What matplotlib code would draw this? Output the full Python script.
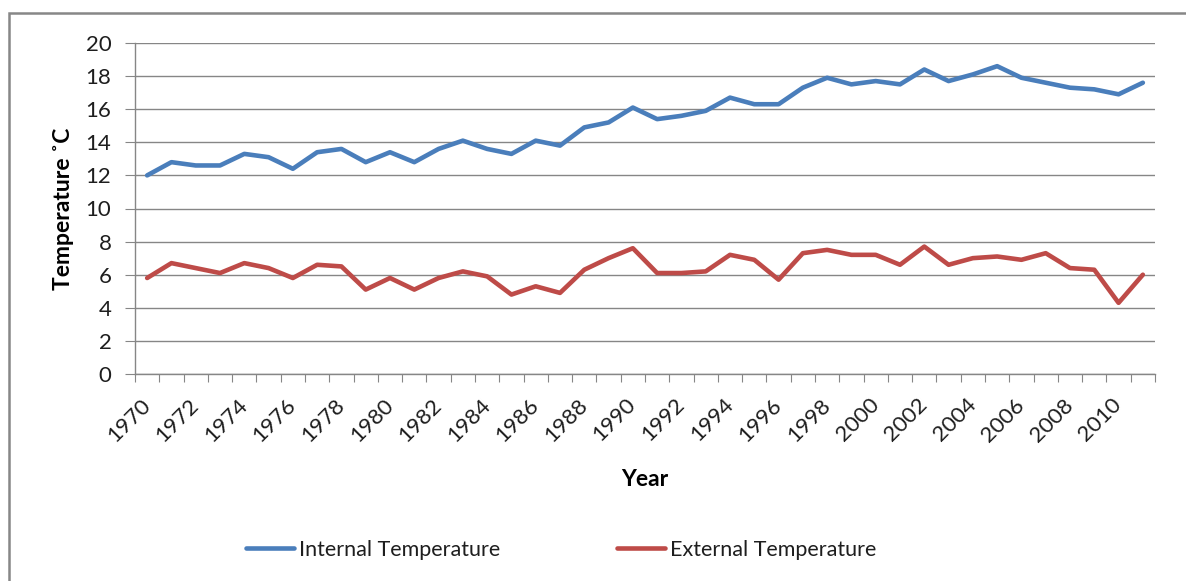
import numpy as np
import matplotlib
matplotlib.use("Agg")
import matplotlib.pyplot as plt
from matplotlib.patches import Rectangle

# Data
years = list(range(1970, 2012))
internal = [12.0, 12.8, 12.6, 12.6, 13.3, 13.1, 12.4, 13.4, 13.6, 12.8,
            13.4, 12.8, 13.6, 14.1, 13.6, 13.3, 14.1, 13.8, 14.9, 15.2,
            16.1, 15.4, 15.6, 15.9, 16.7, 16.3, 16.3, 17.3, 17.9, 17.5,
            17.7, 17.5, 18.4, 17.7, 18.1, 18.6, 17.9, 17.6, 17.3, 17.2,
            16.9, 17.6]
external = [5.8, 6.7, 6.4, 6.1, 6.7, 6.4, 5.8, 6.6, 6.5, 5.1,
            5.8, 5.1, 5.8, 6.2, 5.9, 4.8, 5.3, 4.9, 6.3, 7.0,
            7.6, 6.1, 6.1, 6.2, 7.2, 6.9, 5.7, 7.3, 7.5, 7.2,
            7.2, 6.6, 7.7, 6.6, 7.0, 7.1, 6.9, 7.3, 6.4, 6.3,
            4.3, 6.0]

plt.rcParams['font.family'] = ['Lato', 'DejaVu Sans']

blue = '#4A7EBB'
red = '#BE4B48'
grid_col = '#868686'
text_col = '#1e1e1e'

fig = plt.figure(figsize=(11.86, 5.81), dpi=100)
ax = fig.add_axes([135 / 1186, 1 - 374 / 581, 1020 / 1186, 331 / 581])

x = np.arange(len(years))
ax.plot(x, internal, color=blue, lw=3.3, label='Internal Temperature',
        solid_joinstyle='round', solid_capstyle='round')
ax.plot(x, external, color=red, lw=3.3, label='External Temperature',
        solid_joinstyle='round', solid_capstyle='round')

ax.set_xlim(-0.5, len(years) - 0.5)
ax.set_ylim(0, 20)
ax.set_yticks(np.arange(0, 21, 2))
ax.yaxis.grid(True, color=grid_col, lw=1.0)
ax.set_axisbelow(True)

# category boundaries carry the tick marks, labels sit on every other year
ax.set_xticks(np.arange(-0.5, len(years), 1.0))
ax.set_xticklabels([])
ax.set_xticks(x[::2], minor=True)
ax.set_xticklabels([str(y) for y in years[::2]], minor=True,
                   rotation=45, ha='right', va='center', rotation_mode='anchor')
ax.tick_params(axis='x', which='major', length=6, color=grid_col, direction='out')
ax.tick_params(axis='x', which='minor', length=0, pad=20, labelsize=16,
               labelcolor=text_col)
ax.tick_params(axis='y', length=7, color=grid_col, labelsize=16,
               labelcolor=text_col, pad=10)

for side in ['top', 'right']:
    ax.spines[side].set_visible(False)
for side in ['left', 'bottom']:
    ax.spines[side].set_color(grid_col)
    ax.spines[side].set_linewidth(1.0)

ax.set_xlabel('Year', fontsize=16.5, fontweight='bold', labelpad=17)
ax.set_ylabel('Temperature ˚C', fontsize=16.5, fontweight='bold', labelpad=8)

leg = fig.legend(loc='center', bbox_to_anchor=(561 / 1186, 1 - 550 / 581), ncol=2,
                 frameon=False, fontsize=15.5, handlelength=2.23,
                 handletextpad=0.22, columnspacing=5.44)
for t in leg.get_texts():
    t.set_color(text_col)

# outer chart border
fig.patches.append(Rectangle((9 / 1186, -0.1), 1.2, 1.1 - 13 / 581,
                             transform=fig.transFigure, fill=False,
                             edgecolor='#878787', lw=1.8))

fig.savefig('out.png', dpi=100)
